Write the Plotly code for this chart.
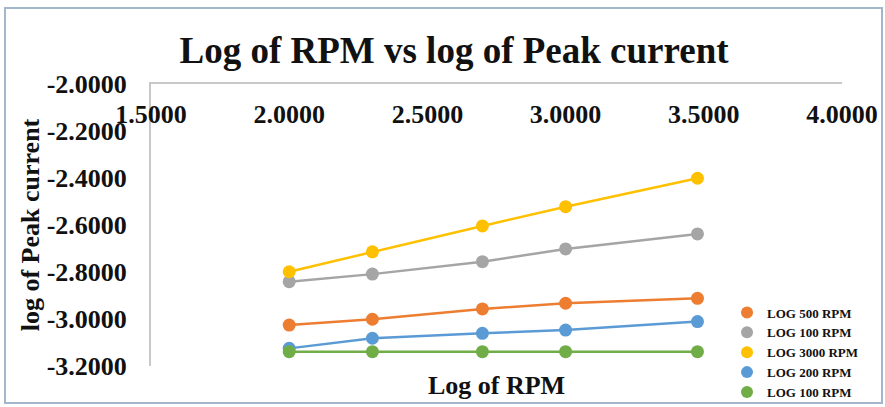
import plotly.graph_objects as go

# ---- data ----
LOG_RPM = [2.0000, 2.3010, 2.6990, 3.0000, 3.4771]
SERIES_NAMES = ["LOG 500 RPM", "LOG 100 RPM", "LOG 3000 RPM", "LOG 200 RPM", "LOG 100 RPM"]
LOG500 = [-3.026, -3.001, -2.957, -2.933, -2.912]
LOG100_A = [-2.841, -2.809, -2.756, -2.702, -2.638]
LOG3000 = [-2.799, -2.714, -2.604, -2.522, -2.401]
LOG200 = [-3.125, -3.082, -3.061, -3.047, -3.011]
LOG100_B = [-3.139, -3.139, -3.139, -3.139, -3.139]
SERIES_VALUES = [LOG500, LOG100_A, LOG3000, LOG200, LOG100_B]
COLORS = ["#ED7D31", "#A5A5A5", "#FFC000", "#5B9BD5", "#70AD47"]

X_TICKS = [1.5, 2.0, 2.5, 3.0, 3.5, 4.0]
X_TICK_TEXT = ["1.5000", "2.0000", "2.5000", "3.0000", "3.5000", "4.0000"]
Y_TICKS = [-3.2, -3.0, -2.8, -2.6, -2.4, -2.2, -2.0]
Y_TICK_TEXT = ["-3.2000", "-3.0000", "-2.8000", "-2.6000", "-2.4000", "-2.2000", "-2.0000"]

FONT = "Liberation Serif"

fig = go.Figure()
for name, vals, col in zip(SERIES_NAMES, SERIES_VALUES, COLORS):
    fig.add_trace(go.Scatter(x=LOG_RPM, y=vals, mode="lines",
                             line=dict(color=col, width=2.5),
                             showlegend=False, hoverinfo="skip"))
    fig.add_trace(go.Scatter(x=LOG_RPM, y=vals, mode="markers", name=name,
                             marker=dict(color=col, size=13)))

# invisible carriers so the overlaid axes (top line, inner tick labels) get drawn
for ax in ["x2", "x3"]:
    fig.add_trace(go.Scatter(x=LOG_RPM, y=LOG500, xaxis=ax, yaxis="y", mode="lines",
                             line=dict(width=0), opacity=0, showlegend=False,
                             hoverinfo="skip"))

fig.update_layout(
    width=885, height=407,
    margin=dict(l=151, r=43, t=84, b=41, autoexpand=False),
    paper_bgcolor="white", plot_bgcolor="white",
    font=dict(family=FONT, color="#1a1a1a"),
    title=dict(text="Log of RPM vs log of Peak current",
               font=dict(family=FONT, size=37, weight="bold", color="#111"),
               x=0.513, xanchor="center", xref="container",
               y=0.877, yanchor="middle"),
    xaxis=dict(range=[1.5, 4.0], side="bottom", showline=False, showticklabels=False,
               showgrid=False, zeroline=False, ticks="", automargin=False,
               title=dict(text="Log of RPM", standoff=9,
                          font=dict(family=FONT, size=26, weight="bold", color="#111"))),
    xaxis2=dict(range=[1.5, 4.0], overlaying="x", side="top", anchor="y",
                showline=True, linecolor="#C8C8C8", linewidth=2, automargin=False,
                showticklabels=False, showgrid=False, zeroline=False, ticks=""),
    xaxis3=dict(range=[1.5, 4.0], overlaying="x", side="bottom", anchor="free",
                position=0.957, showline=False, showgrid=False, zeroline=False, ticks="",
                automargin=False,
                tickmode="array", tickvals=X_TICKS, ticktext=X_TICK_TEXT,
                tickfont=dict(family=FONT, size=26, weight="bold", color="#111")),
    yaxis=dict(range=[-3.2, -2.0], showline=True, linecolor="#C8C8C8", linewidth=2,
               showgrid=False, zeroline=False, ticks="", automargin=False,
               tickmode="array", tickvals=Y_TICKS, ticktext=Y_TICK_TEXT,
               ticklabelstandoff=17,
               tickfont=dict(family=FONT, size=26, weight="bold", color="#111"),
               title=dict(text="log of Peak current", standoff=0,
                          font=dict(family=FONT, size=26, weight="bold", color="#111"))),
    legend=dict(x=0.8336, y=0.243, xanchor="left", yanchor="top",
                bgcolor="rgba(0,0,0,0)", tracegroupgap=0, itemsizing="constant",
                font=dict(family=FONT, size=13, weight="bold", color="#111")),
    shapes=[dict(type="rect", xref="paper", yref="paper",
                 x0=-0.2113, x1=1.0579, y0=-0.1312, y1=1.2695,
                 line=dict(color="#A3B6CC", width=2), layer="below")],
)

fig.write_html("out.html", config={"displayModeBar": False},
               post_script="document.body.style.margin='0';document.body.style.padding='0';")
